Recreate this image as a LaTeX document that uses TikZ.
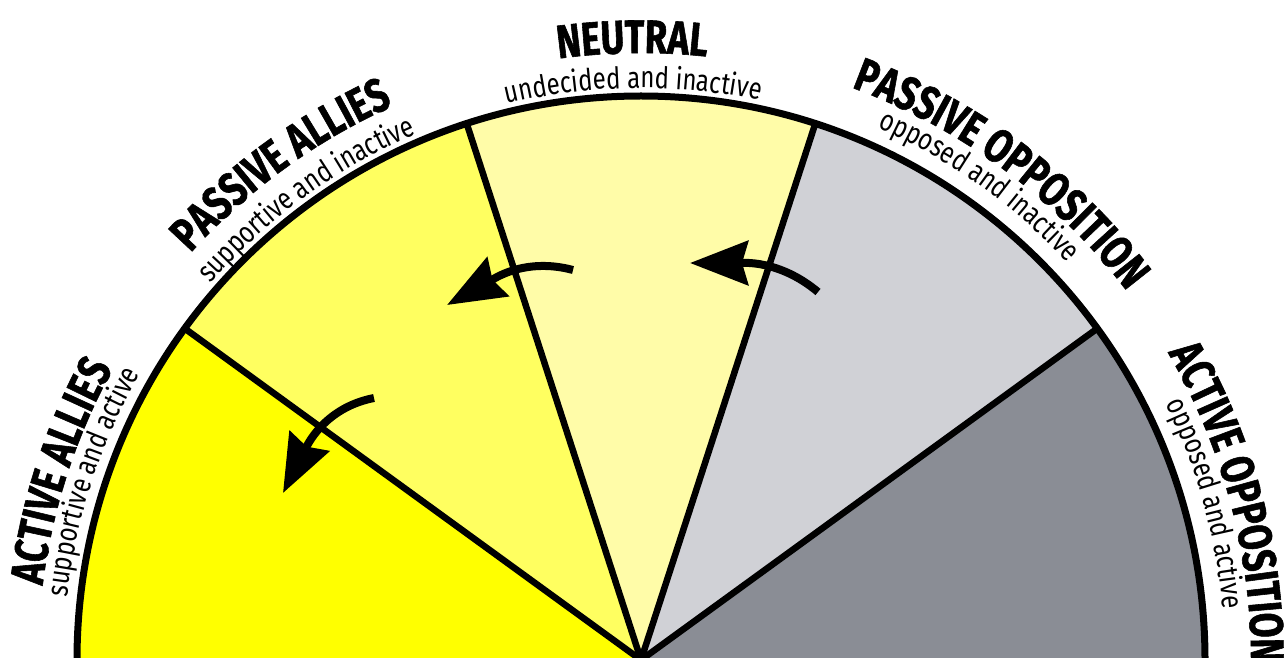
\documentclass[tikz,border=0pt]{standalone}
\usepackage{fontspec}
\newfontfamily\condboldfont[FakeStretch=0.77,FakeBold=1.2]{Fira Sans Bold}
\newfontfamily\subfont[FakeStretch=0.8]{Fira Sans}
\usetikzlibrary{decorations.text,arrows.meta,calc}
\definecolor{aacol}{RGB}{255,255,0}
\definecolor{pacol}{RGB}{255,255,96}
\definecolor{ntcol}{RGB}{255,252,168}
\definecolor{pocol}{RGB}{208,209,214}
\definecolor{aocol}{RGB}{138,141,149}
\newcommand\titlesty{\condboldfont\fontsize{47}{47}\selectfont}
\newcommand\substy{\subfont\fontsize{30}{30}\selectfont}
\newcommand\arclabel[4]{\path[decorate,decoration={text along path,text align=center,text={|#3|#4}}] ($(C)+(#1+50:#2)$) arc[start angle=#1+50,end angle=#1-50,radius=#2];}
\tikzset{
  rim/.style={line width=7pt},
  spoke/.style={line width=6.5pt},
  flow/.style={line width=8pt,-{Stealth[length=58pt,width=44pt,inset=6pt]}}
}
\begin{document}
\begin{tikzpicture}[x=1pt,y=1pt]
\useasboundingbox (0,0) rectangle (1288,657);
\coordinate (C) at (641,-3);
\def\R{564}
% sectors
\fill[aacol] (C) -- ++(180:\R) arc[start angle=180,end angle=144,radius=\R] -- cycle;
\fill[pacol] (C) -- ++(144:\R) arc[start angle=144,end angle=108,radius=\R] -- cycle;
\fill[ntcol] (C) -- ++(108:\R) arc[start angle=108,end angle=72,radius=\R] -- cycle;
\fill[pocol] (C) -- ++(72:\R) arc[start angle=72,end angle=36,radius=\R] -- cycle;
\fill[aocol] (C) -- ++(36:\R) arc[start angle=36,end angle=0,radius=\R] -- cycle;
% outline
\foreach \a in {36,72,108,144} \draw[spoke] (C) -- ++(\a:\R);
\draw[rim] (C) ++(180:\R) arc[start angle=180,end angle=0,radius=\R];
% labels
\arclabel{162}{603}{\titlesty}{ACTIVE ALLIES}
\arclabel{162}{577}{\substy}{supportive and active}
\arclabel{126}{607}{\titlesty}{PASSIVE ALLIES}
\arclabel{126}{572}{\substy}{supportive and inactive}
\arclabel{90.8}{607}{\titlesty}{NEUTRAL}
\arclabel{90.8}{572}{\substy}{undecided and inactive}
\arclabel{53.5}{610}{\titlesty}{PASSIVE OPPOSITION}
\arclabel{54.5}{583}{\substy}{opposed and inactive}
\arclabel{15}{610}{\titlesty}{ACTIVE OPPOSITION}
\arclabel{15.5}{584}{\substy}{opposed and active}
% arrows
\coordinate (a1s) at (573,387);
\coordinate (a1e) at (447,352);
\coordinate (a2s) at (374,259);
\coordinate (a2e) at (283,164);
\coordinate (a3s) at (818,365);
\coordinate (a3e) at (690,394);
\draw[flow] (a1s) to[out=165,in=29] (a1e);
\draw[flow] (a2s) to[out=191,in=63] (a2e);
\draw[flow] (a3s) to[out=140,in=0] (a3e);
\end{tikzpicture}
\end{document}
